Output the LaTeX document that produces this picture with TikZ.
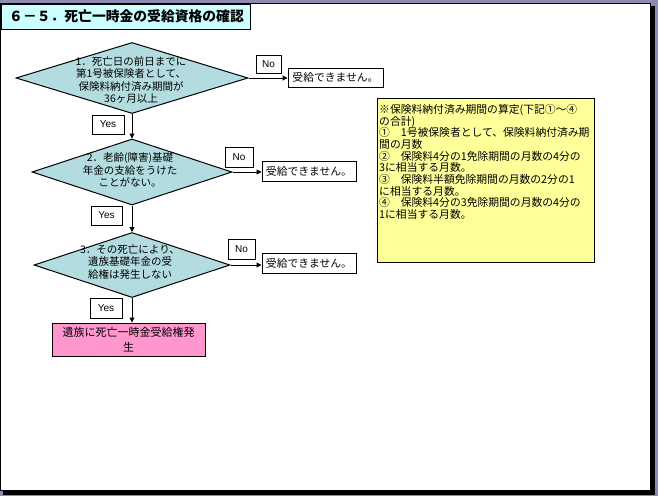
\documentclass[tikz,border=0pt]{standalone}
\usepackage{fontspec}
\setmainfont{Noto Sans CJK JP}
\newfontfamily\lat{Liberation Sans}
\usetikzlibrary{shapes.geometric,arrows.meta}
\definecolor{bgblue}{RGB}{140,140,178}
\definecolor{titlecyan}{RGB}{204,255,255}
\definecolor{diafill}{RGB}{178,220,224}
\definecolor{pinkfill}{RGB}{255,150,205}
\definecolor{notefill}{RGB}{255,255,153}
\tikzset{
  dia/.style={shape=diamond, draw=black, line width=1pt, fill=diafill, inner sep=0pt},
  diatext/.style={align=center, inner sep=0pt, font=\fontsize{10.5}{12.6}\selectfont},
  tagbox/.style={draw=black, line width=1pt, fill=white, inner sep=0pt, font=\lat\fontsize{10}{12}\selectfont},
  resbox/.style={draw=black, line width=1pt, fill=white, inner sep=0pt, font=\fontsize{10.8}{12}\selectfont},
  conn/.style={line width=1pt, -{Triangle[length=5pt,width=5pt]}}
}
\begin{document}
\begin{tikzpicture}[x=1pt,y=-1pt]
\useasboundingbox (0,0) rectangle (658,496);
% page background and frame
\fill[bgblue] (0,0) rectangle (658,496);
\fill[black] (3,6) rectangle (655,495);
\fill[black] (0,3) rectangle (651,491);
\fill[white] (1,4) rectangle (650,490);
% title
\node[draw=black, line width=1pt, fill=titlecyan, minimum width=249pt, minimum height=25pt, inner sep=0pt] (title) at (125.5,16.5) {};
\node[anchor=west, inner sep=0pt, font=\bfseries\fontsize{13.8}{15}\selectfont] (titletext) at (9,16.5) {６－５．死亡一時金の受給資格の確認};
% diamonds
\node[dia, minimum width=232pt, minimum height=71pt] (d1) at (132,78) {};
\node[diatext] (t1) at (131,80) {1．死亡日の前日までに\\第1号被保険者として、\\保険料納付済み期間が\\36ヶ月以上};
\node[dia, minimum width=200pt, minimum height=66pt] (d2) at (132,172) {};
\node[diatext] (t2) at (130,170) {2．老齢(障害)基礎\\年金の支給をうけた\\ことがない。};
\node[dia, minimum width=196pt, minimum height=65pt] (d3) at (132,265) {};
\node[diatext] (t3) at (130,262) {3．その死亡により、\\遺族基礎年金の受\\給権は発生しない};
% No labels and results
\node[tagbox, minimum width=25pt, minimum height=18pt] (no1) at (268.5,64) {No};
\node[resbox, minimum width=95pt, minimum height=19pt] (r1) at (335.5,77.5) {受給できません。};
\node[tagbox, minimum width=28pt, minimum height=20pt] (no2) at (239,157) {No};
\node[resbox, minimum width=94pt, minimum height=20pt] (r2) at (309,171) {受給できません。};
\node[tagbox, minimum width=27pt, minimum height=20pt] (no3) at (241.5,249) {No};
\node[resbox, minimum width=94pt, minimum height=20pt] (r3) at (309,263) {受給できません。};
% Yes labels
\node[tagbox, minimum width=32pt, minimum height=19pt] (yes1) at (108,124.5) {Yes};
\node[tagbox, minimum width=31pt, minimum height=19pt] (yes2) at (106.5,215.5) {Yes};
\node[tagbox, minimum width=32pt, minimum height=20pt] (yes3) at (106,308) {Yes};
% final
\node[draw=black, line width=1pt, fill=pinkfill, minimum width=153pt, minimum height=33pt, inner sep=0pt, align=center, font=\fontsize{11}{15}\selectfont] (fin) at (128.5,339.5) {遺族に死亡一時金受給権発\\生};
% note
\node[draw=black, line width=1pt, fill=notefill, minimum width=217pt, minimum height=164pt, inner sep=0pt] (note) at (485.5,180) {};
\node[anchor=north west, inner sep=0pt, align=left, font=\fontsize{10.8}{11.7}\selectfont] (notetext) at (379,104) {※保険料納付済み期間の算定(下記①～④\\の合計)\\①　1号被保険者として、保険料納付済み期\\間の月数\\②　保険料4分の1免除期間の月数の4分の\\3に相当する月数。\\③　保険料半額免除期間の月数の2分の1\\に相当する月数。\\④　保険料4分の3免除期間の月数の4分の\\1に相当する月数。};
% connectors
\draw[conn] (d1.east) -- (d1.east -| r1.west);
\draw[conn] (d2.east) -- (d2.east -| r2.west);
\draw[conn] (d3.east) -- (d3.east -| r3.west);
\draw[conn] (d1.south) -- (d2.north);
\draw[conn] (d2.south) -- (d3.north);
\draw[conn] (d3.south) -- (d3.south |- fin.north);
\end{tikzpicture}
\end{document}
